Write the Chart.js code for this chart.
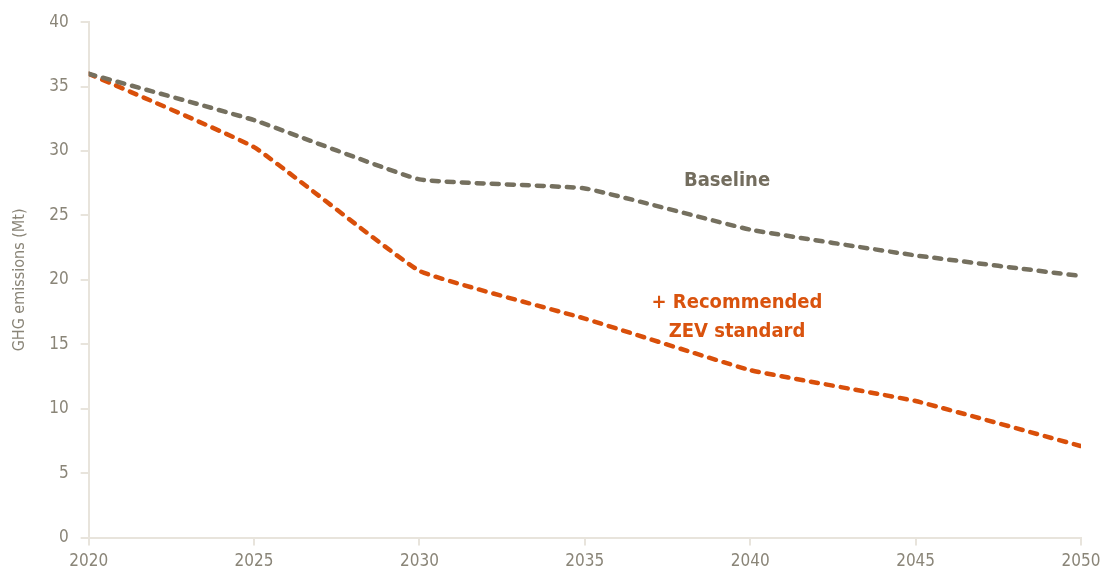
<!DOCTYPE html>
<html>
<head>
<meta charset="utf-8">
<script src="https://cdn.jsdelivr.net/npm/chart.js@4/dist/chart.umd.min.js"></script>
<style>
  body { margin: 0; background: #fff; }
  #wrap { width: 1102px; height: 578px; }
</style>
</head>
<body>
<div id="wrap"><canvas id="chart" width="1102" height="578"></canvas></div>
<script>
// GHG emissions chart data
const years = [2020, 2025, 2030, 2035, 2040, 2045, 2050];
const baseline = [36.0, 32.4, 27.8, 27.1, 23.9, 21.9, 20.3];
const zevStandard = [36.0, 30.3, 20.7, 17.0, 13.0, 10.6, 7.1];
const yTicks = [0, 5, 10, 15, 20, 25, 30, 35, 40];

const FONT = '"DejaVu Sans Condensed", "Liberation Sans Narrow", sans-serif';
const GREY_TEXT = '#8a8578';
const AXIS = '#e8e4dc';

// Inline series labels drawn at data coordinates
const seriesLabels = {
  id: 'seriesLabels',
  afterDatasetsDraw(chart) {
    const ctx = chart.ctx;
    const xs = chart.scales.x;
    const ys = chart.scales.y;
    ctx.save();
    ctx.font = 'bold 20px ' + FONT;
    ctx.textAlign = 'center';
    ctx.textBaseline = 'middle';
    ctx.fillStyle = '#736d5e';
    ctx.fillText('Baseline', xs.getPixelForValue(2039.3), ys.getPixelForValue(27.7));
    ctx.fillStyle = '#d9530e';
    ctx.fillText('+ Recommended', xs.getPixelForValue(2039.6), ys.getPixelForValue(18.2));
    ctx.fillText('ZEV standard', xs.getPixelForValue(2039.6), ys.getPixelForValue(16.0));
    ctx.restore();
  }
};

function toPoints(values) {
  return values.map((v, i) => ({ x: years[i], y: v }));
}

const ctx = document.getElementById('chart').getContext('2d');
new Chart(ctx, {
  type: 'line',
  data: {
    datasets: [
      {
        label: 'Baseline',
        data: toPoints(baseline),
        borderColor: '#75705f',
        borderWidth: 4.5,
        borderDash: [7, 8],
        borderCapStyle: 'round',
        pointRadius: 0,
        tension: 0.1,
        fill: false
      },
      {
        label: '+ Recommended ZEV standard',
        data: toPoints(zevStandard),
        borderColor: '#d94f0a',
        borderWidth: 4.5,
        borderDash: [7, 8],
        borderCapStyle: 'round',
        pointRadius: 0,
        tension: 0.1,
        fill: false
      }
    ]
  },
  options: {
    responsive: false,
    animation: false,
    layout: { padding: { top: 12, right: 21, left: 10, bottom: 0 } },
    plugins: {
      legend: { display: false },
      tooltip: { enabled: false }
    },
    scales: {
      x: {
        type: 'linear',
        min: 2020,
        max: 2050,
        afterBuildTicks: axis => { axis.ticks = years.map(v => ({ value: v })); },
        afterFit: axis => { axis.paddingRight = 0; },
        grid: { drawOnChartArea: false, color: AXIS, lineWidth: 2, tickLength: 8 },
        border: { color: AXIS, width: 2 },
        ticks: {
          color: GREY_TEXT,
          font: { family: FONT, size: 17 },
          padding: 6,
          maxRotation: 0,
          callback: v => String(v)
        }
      },
      y: {
        min: 0,
        max: 40,
        afterBuildTicks: axis => { axis.ticks = yTicks.map(v => ({ value: v })); },
        grid: { drawOnChartArea: false, color: AXIS, lineWidth: 2, tickLength: 8 },
        border: { color: AXIS, width: 2 },
        ticks: {
          color: GREY_TEXT,
          font: { family: FONT, size: 17 },
          padding: 12
        },
        title: {
          display: true,
          text: 'GHG emissions (Mt)',
          color: GREY_TEXT,
          font: { family: FONT, size: 16 },
          padding: { top: 0, bottom: 8 }
        }
      }
    }
  },
  plugins: [seriesLabels]
});
</script>
</body>
</html>
